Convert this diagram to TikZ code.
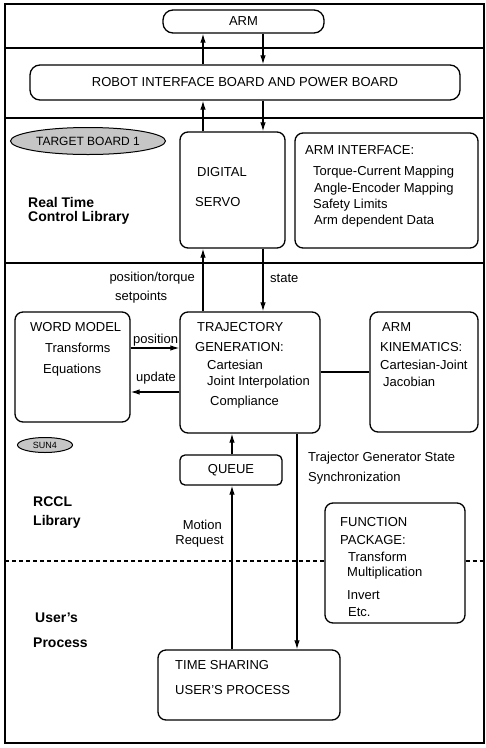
\documentclass[tikz,border=0pt]{standalone}
\usepackage{fontspec}
\setmainfont{Liberation Sans}
\usetikzlibrary{arrows.meta,shapes.geometric}
\begin{document}
\begin{tikzpicture}[x=1pt,y=-1pt,
  box/.style={draw,line width=1.3pt,rounded corners=8pt,inner sep=0pt,font=\fontsize{13}{15}\selectfont},
  oval/.style={draw,line width=1pt,ellipse,fill=gray!45,inner sep=0pt,text=black,font=\fontsize{12}{14}\selectfont},
  txt/.style={anchor=west,inner sep=0pt,font=\fontsize{13}{15}\selectfont},
  lbl/.style={anchor=west,inner sep=0pt,font=\bfseries\fontsize{14}{16}\selectfont},
  arr/.style={line width=1.2pt,-{Latex[length=9pt,width=5.5pt]}},
  ln/.style={line width=1.2pt},
  sep/.style={line width=1.2pt,dash pattern=on 4pt off 3pt},
  frame/.style={line width=1.8pt}]
\useasboundingbox (0,0) rectangle (486,748);
% frame and separators
\draw[frame] (5,4) rectangle (484,743);
\draw[frame] (5,48) -- (484,48);
\draw[frame] (5,118) -- (484,118);
\draw[frame] (5,263) -- (484,263);
% x positions of vertical connectors
\coordinate (xA) at (203,0);
\coordinate (xB) at (263,0);
\coordinate (xQ) at (232,0);
\coordinate (xS) at (297,0);
\coordinate (yP) at (0,348);
\coordinate (yU) at (0,392);
\coordinate (yK) at (0,372);
% boxes
\node[box,rounded corners=10pt,minimum width=161pt,minimum height=23pt] (arm) at (243.5,21.5) {ARM};
\node[box,rounded corners=10pt,minimum width=430pt,minimum height=35pt] (robot) at (245,82.5) {ROBOT INTERFACE BOARD AND POWER BOARD};
\node[box,minimum width=105pt,minimum height=116pt] (servo) at (232.5,190) {};
\node[box,minimum width=183pt,minimum height=115pt] (armif) at (386.5,190.5) {};
\node[oval,minimum width=155pt,minimum height=27pt] (target) at (88,141) {TARGET BOARD 1};
\node[box,minimum width=115pt,minimum height=110pt] (word) at (72.5,367) {};
\node[box,minimum width=140pt,minimum height=121pt] (traj) at (250,372.5) {};
\node[box,minimum width=108pt,minimum height=120pt] (kin) at (424,372) {};
\node[box,rounded corners=5pt,minimum width=102pt,minimum height=30pt] (queue) at (231,470) {QUEUE};
\node[oval,minimum width=55pt,minimum height=15pt,font=\fontsize{9}{10}\selectfont] (sun) at (45,445) {SUN4};
\node[box,minimum width=140pt,minimum height=120pt] (func) at (395,563) {};
\node[box,minimum width=182pt,minimum height=70pt] (ts) at (249,685) {};
% dashed separator
\draw[sep] (5,561) -- (func.west |- 0,561);
\draw[sep] (func.east |- 0,561) -- (484,561);
% connectors
\draw[arr] (robot.north -| xA) -- (arm.south -| xA);
\draw[arr] (arm.south -| xB) -- (robot.north -| xB);
\draw[arr] (servo.north -| xA) -- (robot.south -| xA);
\draw[arr] (robot.south -| xB) -- (servo.north -| xB);
\draw[arr] (traj.north -| xA) -- (servo.south -| xA);
\draw[arr] (servo.south -| xB) -- (traj.north -| xB);
\draw[arr] (word.east |- yP) -- (traj.west |- yP);
\draw[arr] (traj.west |- yU) -- (word.east |- yU);
\draw[ln] (traj.east |- yK) -- (kin.west |- yK);
\draw[arr] (queue.north -| xQ) -- (traj.south -| xQ);
\draw[arr] (ts.north -| xQ) -- (queue.south -| xQ);
\draw[arr] (traj.south -| xS) -- (ts.north -| xS);
% texts
\node[txt] at (197,172) {DIGITAL};
\node[txt] at (195,202) {SERVO};
\node[txt] at (305,150) {ARM INTERFACE:};
\node[txt] at (313,172) {Torque-Current Mapping};
\node[txt] at (314,189) {Angle-Encoder Mapping};
\node[txt] at (313,205) {Safety Limits};
\node[txt] at (314,221) {Arm dependent Data};
\node[lbl] at (28,202) {Real Time};
\node[lbl] at (28,218) {Control Library};
\node[txt,anchor=east] at (195,278) {position/torque};
\node[txt] at (115,297) {setpoints};
\node[txt] at (270,278) {state};
\node[txt] at (30,327) {WORD MODEL};
\node[txt] at (45,348) {Transforms};
\node[txt] at (43,370) {Equations};
\node[txt] at (133,340) {position};
\node[txt] at (136,378) {update};
\node[txt] at (197,327) {TRAJECTORY};
\node[txt] at (195,347) {GENERATION:};
\node[txt] at (207,365) {Cartesian};
\node[txt] at (207,382) {Joint Interpolation};
\node[txt] at (210,402) {Compliance};
\node[txt] at (382,327) {ARM};
\node[txt] at (380,347) {KINEMATICS:};
\node[txt] at (380,365) {Cartesian-Joint};
\node[txt] at (383,382) {Jacobian};
\node[txt] at (308,458) {Trajector Generator State};
\node[txt] at (308,478) {Synchronization};
\node[lbl] at (33,502) {RCCL};
\node[lbl] at (33,522) {Library};
\node[txt,anchor=east] at (222,525) {Motion};
\node[txt,anchor=east] at (224,541) {Request};
\node[txt] at (340,522) {FUNCTION};
\node[txt] at (340,540) {PACKAGE:};
\node[txt] at (348,557) {Transform};
\node[txt] at (347,573) {Multiplication};
\node[txt] at (347,595) {Invert};
\node[txt] at (348,612) {Etc.};
\node[lbl] at (35,618) {User's};
\node[lbl] at (33,643) {Process};
\node[txt] at (175,665) {TIME SHARING};
\node[txt] at (175,690) {USER'S PROCESS};
\end{tikzpicture}
\end{document}
